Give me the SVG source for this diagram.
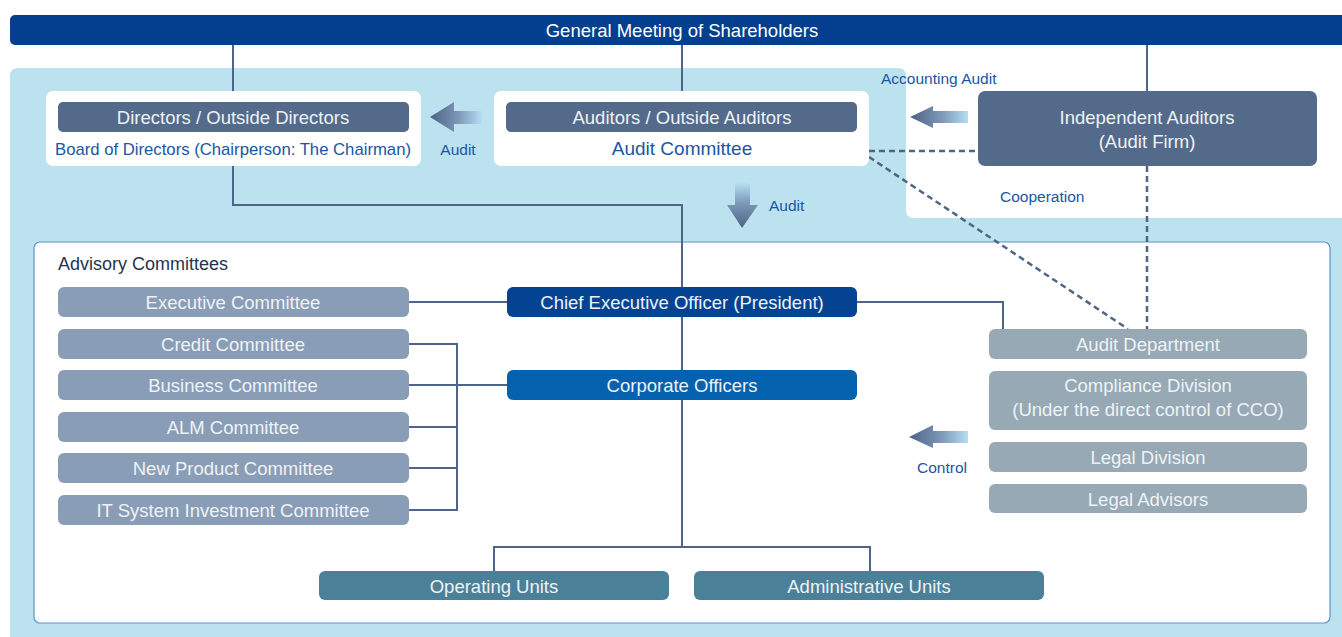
<svg xmlns="http://www.w3.org/2000/svg" width="1342" height="637" viewBox="0 0 1342 637">
  <style>
    text { font-family: "Liberation Sans", Arial, sans-serif; }
    .lbl { fill: #eef2f6; font-size: 18.5px; text-anchor: middle; }
    .blue { fill: #1a56a5; }
    .small { fill: #1a56a5; font-size: 15.5px; }
    .conn { fill: none; stroke: #4f6587; stroke-width: 2; }
    .dash { fill: none; stroke: #4f6587; stroke-width: 2.5; stroke-dasharray: 6 4; }
    .slate { fill: #536a8a; }
    .cmte { fill: #8a9db6; }
    .ctrl { fill: #97a9b5; }
    .unit { fill: #4b8099; }
  </style>
  <defs>
    <linearGradient id="gLeft" x1="0" y1="0" x2="1" y2="0">
      <stop offset="0" stop-color="#4d6385"/>
      <stop offset="0.55" stop-color="#7d98b8"/>
      <stop offset="1" stop-color="#b4def2"/>
    </linearGradient>
    <linearGradient id="gDown" x1="0" y1="1" x2="0" y2="0">
      <stop offset="0" stop-color="#4d6385"/>
      <stop offset="0.55" stop-color="#7d98b8"/>
      <stop offset="1" stop-color="#b4def2"/>
    </linearGradient>
  </defs>

  <!-- backgrounds -->
  <rect x="0" y="0" width="1342" height="637" fill="#ffffff"/>
  <path d="M18 68 H898 Q906 68 906 76 V210 Q906 218 914 218 H1342 V637 H10 V76 Q10 68 18 68 Z" fill="#bce2f0"/>
  <rect x="34" y="242" width="1296" height="381" rx="6" fill="#ffffff" stroke="#5b93d0" stroke-width="1.2"/>
  <text x="58" y="270" font-size="18" fill="#24344f">Advisory Committees</text>

  <!-- connectors -->
  <g id="connectors">
    <path class="conn" d="M233 45 V91"/>
    <path class="conn" d="M682 45 V91"/>
    <path class="conn" d="M1147 45 V91"/>
    <path class="conn" d="M233 166 V205 H682 V547"/>
    <path class="conn" d="M494 571 V547 H870 V571"/>
    <path class="conn" d="M409 302 H507"/>
    <path class="conn" d="M857 302 H1003 V329"/>
    <path class="conn" d="M409 344 H457 V510 H409"/>
    <path class="conn" d="M409 385 H507"/>
    <path class="conn" d="M409 427 H457"/>
    <path class="conn" d="M409 468 H457"/>
    <path class="dash" d="M869 151 H978"/>
    <path class="dash" d="M869 157 L1128 329"/>
    <path class="dash" d="M1147 166 V329"/>
    <!-- gradient arrows -->
    <path d="M430 117 L454 102 V111 H482 V124 H454 V132 Z" fill="url(#gLeft)"/>
    <path d="M910 117 L933 106 V111 H968 V123 H933 V128 Z" fill="url(#gLeft)"/>
    <path d="M909 437 L933 425 V431 H968 V443 H933 V448 Z" fill="url(#gLeft)"/>
    <path d="M742 228 L727 205 H735 V183 H750 V205 H758 Z" fill="url(#gDown)"/>
    <text class="small" x="458" y="155" text-anchor="middle">Audit</text>
    <text class="small" x="769" y="211">Audit</text>
    <text class="small" x="881" y="84">Accounting Audit</text>
    <text class="small" x="1000" y="202">Cooperation</text>
    <text class="small" x="967" y="473" text-anchor="end">Control</text>
  </g>

  <!-- top -->
  <g id="shareholders">
    <rect x="10" y="15" width="1345" height="30" rx="5" fill="#033f8e"/>
    <text x="682" y="37" font-size="18.5" fill="#ffffff" text-anchor="middle">General Meeting of Shareholders</text>
  </g>

  <g id="board">
    <rect x="46" y="91" width="375" height="75" rx="7" fill="#ffffff"/>
    <rect class="slate" x="58" y="102" width="351" height="30" rx="5"/>
    <text class="lbl" x="233" y="124">Directors / Outside Directors</text>
    <text class="blue" x="233" y="155" font-size="17" text-anchor="middle" textLength="356" lengthAdjust="spacingAndGlyphs">Board of Directors (Chairperson: The Chairman)</text>
  </g>

  <g id="audit-committee">
    <rect x="494" y="91" width="375" height="75" rx="7" fill="#ffffff"/>
    <rect class="slate" x="506" y="102" width="351" height="30" rx="5"/>
    <text class="lbl" x="682" y="124">Auditors / Outside Auditors</text>
    <text class="blue" x="682" y="155" font-size="19" text-anchor="middle">Audit Committee</text>
  </g>

  <g id="independent-auditors">
    <rect class="slate" x="978" y="91" width="339" height="75" rx="7"/>
    <text class="lbl" x="1147" y="124">Independent Auditors</text>
    <text class="lbl" x="1147" y="148">(Audit Firm)</text>
  </g>

  <!-- advisory committees -->
  <g id="executive-committee"><rect class="cmte" x="58" y="287" width="351" height="30" rx="6"/><text class="lbl" x="233" y="309">Executive Committee</text></g>
  <g id="credit-committee"><rect class="cmte" x="58" y="329" width="351" height="30" rx="6"/><text class="lbl" x="233" y="351">Credit Committee</text></g>
  <g id="business-committee"><rect class="cmte" x="58" y="370" width="351" height="30" rx="6"/><text class="lbl" x="233" y="392">Business Committee</text></g>
  <g id="alm-committee"><rect class="cmte" x="58" y="412" width="351" height="30" rx="6"/><text class="lbl" x="233" y="434">ALM Committee</text></g>
  <g id="new-product-committee"><rect class="cmte" x="58" y="453" width="351" height="30" rx="6"/><text class="lbl" x="233" y="475">New Product Committee</text></g>
  <g id="it-committee"><rect class="cmte" x="58" y="495" width="351" height="30" rx="6"/><text class="lbl" x="233" y="517">IT System Investment Committee</text></g>

  <!-- executive line -->
  <g id="ceo"><rect x="507" y="287" width="350" height="30" rx="6" fill="#034392"/><text class="lbl" x="682" y="309">Chief Executive Officer (President)</text></g>
  <g id="corporate-officers"><rect x="507" y="370" width="350" height="30" rx="6" fill="#0461ae"/><text class="lbl" x="682" y="392">Corporate Officers</text></g>

  <!-- control functions -->
  <g id="audit-department"><rect class="ctrl" x="989" y="329" width="318" height="30" rx="6"/><text class="lbl" x="1148" y="351">Audit Department</text></g>
  <g id="compliance-division"><rect class="ctrl" x="989" y="371" width="318" height="59" rx="6"/><text class="lbl" x="1148" y="392">Compliance Division</text><text class="lbl" x="1148" y="416">(Under the direct control of CCO)</text></g>
  <g id="legal-division"><rect class="ctrl" x="989" y="442" width="318" height="30" rx="6"/><text class="lbl" x="1148" y="464">Legal Division</text></g>
  <g id="legal-advisors"><rect class="ctrl" x="989" y="484" width="318" height="29" rx="6"/><text class="lbl" x="1148" y="506">Legal Advisors</text></g>

  <!-- business units -->
  <g id="operating-units"><rect class="unit" x="319" y="571" width="350" height="29" rx="6"/><text class="lbl" x="494" y="593">Operating Units</text></g>
  <g id="administrative-units"><rect class="unit" x="694" y="571" width="350" height="29" rx="6"/><text class="lbl" x="869" y="593">Administrative Units</text></g>
</svg>
